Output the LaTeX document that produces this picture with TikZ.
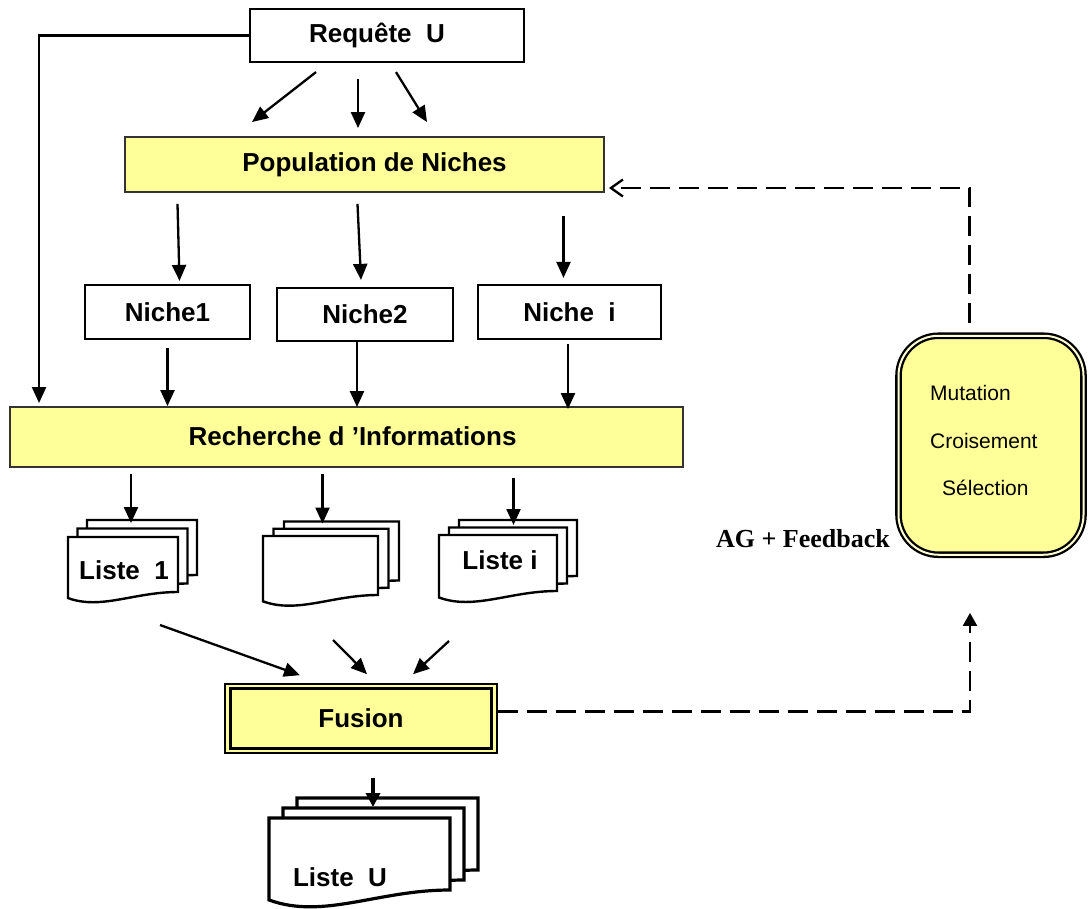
\documentclass[tikz,border=0pt]{standalone}
\usepackage{fontspec}
\setmainfont{Liberation Sans}
\newfontfamily\serifbold{Liberation Serif}
\usetikzlibrary{arrows.meta,calc}
\definecolor{yfill}{RGB}{255,255,153}
\newcommand\bigfont{\fontsize{26}{30}\selectfont\bfseries}
\newcommand\midfont{\fontsize{21}{25}\selectfont}
% x, y (top-left), w, h (right side height), line width
\newcommand\docshape[5]{%
  \draw[line width=#5, fill=white, line join=miter] (#1,#2) -- ({#1+#3},#2) -- ({#1+#3},{#2+#4})
    .. controls ({#1+0.6*#3},{#2+#4}) and ({#1+0.3*#3},{#2+#4+0.165*#3}) ..
    (#1,{#2+#4+0.055*#3}) -- cycle;}
% x, y (front top-left), w, h, dx, dy, line width
\newcommand\docstack[7]{%
  \docshape{#1+2*#5}{#2-2*#6}{#3}{#4}{#7}%
  \docshape{#1+#5}{#2-#6}{#3}{#4}{#7}%
  \docshape{#1}{#2}{#3}{#4}{#7}}
\begin{document}
\begin{tikzpicture}[x=1pt,y=-1pt,
  box/.style={draw, line width=2.2pt, inner sep=0pt, font=\bigfont},
  ybox/.style={box, fill=yfill, draw=black!80, line width=1.9pt},
  arr/.style={line width=2.3pt, -{Triangle[length=16pt,width=14pt]}},
  dashline/.style={line width=2.3pt, dash pattern=on 20pt off 9pt},
  lbl/.style={font=\bigfont, inner sep=0pt},
  small/.style={font=\midfont, inner sep=0pt, anchor=west}]
\useasboundingbox (0,0) rectangle (1090,908);

% boxes
\node[box, minimum width=274pt, minimum height=53pt] (req) at (387,35.5) {};
\node[lbl] (reqt) at (377,35.5) {Requête\ \ U};
\node[ybox, minimum width=479pt, minimum height=55pt] (pop) at (364.5,164.5) {};
\node[lbl] (popt) at (374.5,164.5) {Population de Niches};
\node[box, minimum width=165pt, minimum height=54pt] (n1) at (167.5,312) {Niche1};
\node[box, minimum width=176pt, minimum height=53pt] (n2) at (365,314.5) {Niche2};
\node[box, minimum width=183pt, minimum height=54pt] (ni) at (569.5,312) {Niche\ \ i};
\node[ybox, minimum width=673pt, minimum height=60pt] (rech) at (346.5,437) {};
\node[lbl] (recht) at (352.5,436) {Recherche d 'Informations};

% fusion (double frame)
\node[box, fill=yfill, line width=1.6pt, minimum width=272pt, minimum height=69pt] (fus) at (361,718.5) {Fusion};
\draw[line width=3pt] ($(fus.north west)+(6.5,5.5)$) rectangle ($(fus.south east)+(-6.5,-5.5)$);

% AG box
\node[draw, line width=2.3pt, double=yfill!40!white, double distance=2pt, fill=yfill,
      rounded corners=40pt, minimum width=185pt, minimum height=219pt, inner sep=0pt] (ag) at (991,445.25) {};
\node[small] (mut) at (930,393) {Mutation};
\node[small] (cro) at (930,441) {Croisement};
\node[small] (sel) at (942,488) {Sélection};
\node[font=\serifbold\fontsize{26}{30}\selectfont\bfseries, inner sep=0pt, anchor=base east] (agf) at (890,547) {AG + Feedback};

% document stacks
\docstack{68}{537}{110}{55}{9.5}{8.5}{2.4pt}
\docstack{263}{536}{115}{59}{10.5}{7.25}{2.4pt}
\docstack{439}{535}{118}{56}{10}{7.5}{2.4pt}
\docstack{269}{818}{181}{72}{14}{10}{3.2pt}
\coordinate (l1b) at (87,520);
\coordinate (l2b) at (284,521.5);
\coordinate (lib) at (459,520);
\coordinate (lub) at (297,798);
\node[lbl] (l1) at (124,570) {Liste\ \ 1};
\coordinate (l2) at (320,568);
\node[lbl] (li) at (500,560) {Liste i};
\node[lbl] (lu) at (340,877) {Liste\ \ U};

% arrows from Requete
\draw[arr] ($(req.south)+(-71,9)$) -- ($(pop.north)+(-112.5,-14)$);
\draw[arr] ($(req.south)+(-29,16)$) -- ($(pop.north)+(-6.5,-8)$);
\draw[arr] ($(req.south)+(9,9)$) -- ($(pop.north)+(62.5,-14)$);
\draw[arr] (req.west) -| ($(rech.north west)+(30,-3)$);

% population -> niches
\draw[arr] ($(pop.south)+(-187,11)$) -- ($(n1.north)+(12,-3)$);
\draw[arr] ($(pop.south)+(-7,11)$) -- ($(n2.north)+(-4,-7)$);
\draw[arr] ($(pop.south)+(199,23)$) -- ($(ni.north)+(-6,-6)$);

% niches -> recherche
\draw[arr] ($(n1.south)+(0,8)$) -- ($(rech.north)+(-179,0)$);
\draw[arr] ($(n2.south)+(-8,0)$) -- ($(rech.north)+(10.5,1)$);
\draw[arr] ($(ni.south)+(-1.5,4)$) -- ($(rech.north)+(221.5,3)$);

% recherche -> lists
\draw[arr] ($(rech.south)+(-215.5,6)$) -- ($(l1b)+(44,3)$);
\draw[arr] ($(rech.south)+(-24,6)$) -- ($(l2b)+(38.5,2)$);
\draw[arr] ($(rech.south)+(167,10)$) -- ($(lib)+(54.5,5)$);

% lists -> fusion
\draw[arr] ($(l1)+(36,55)$) -- ($(fus.north)+(-61,-8)$);
\draw[arr] ($(l2)+(13,72)$) -- ($(fus.north)+(6,-9)$);
\draw[arr] ($(li)+(-51,81)$) -- ($(fus.north)+(52,-9)$);

% fusion -> liste U
\draw[line width=3.5pt, -{Triangle[length=14pt,width=14pt]}] ($(fus.south)+(12,24)$) -- ($(lub)+(76,9)$);

% dashed feedback
\draw[dashline, -{Triangle[length=13pt,width=14pt]}] ($(fus.east)+(0,-7)$) -| ($(ag.south)+(-21,57)$);
\draw[dashline, -{Straight Barb[length=12pt,width=17pt]}] ($(ag.north)+(-21.5,-11.5)$) |- ($(pop.east)+(4,23.5)$);
\end{tikzpicture}
\end{document}
